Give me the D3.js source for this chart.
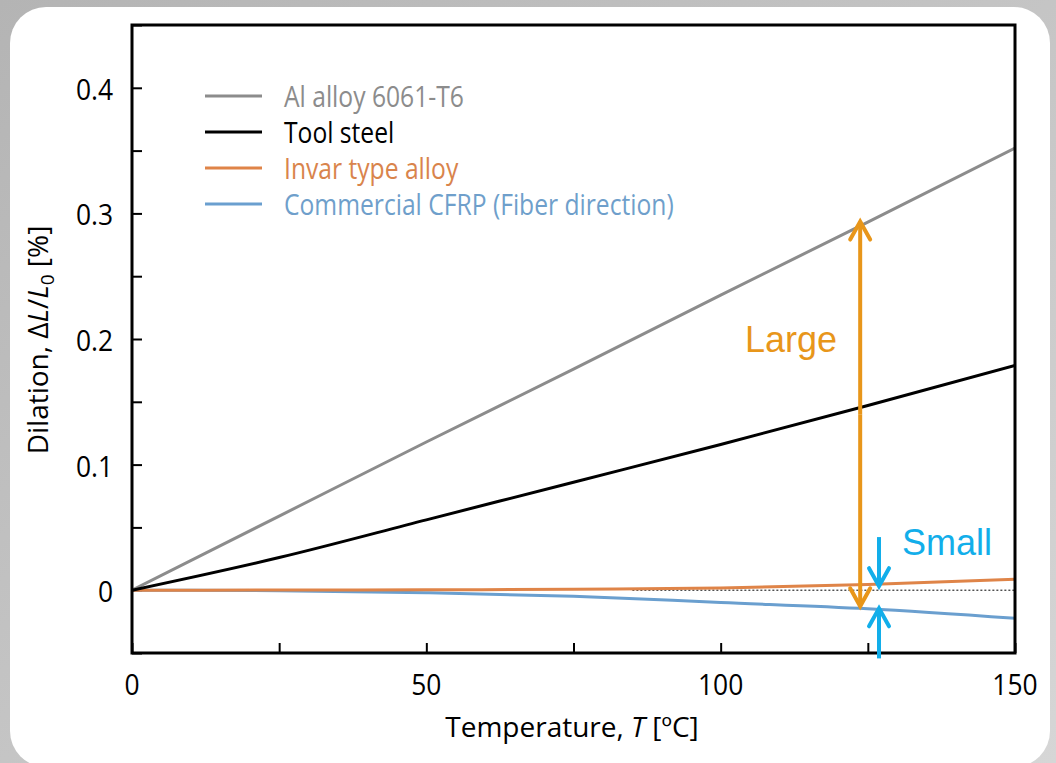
<!DOCTYPE html>
<html>
<head>
<meta charset="utf-8">
<script src="https://cdn.jsdelivr.net/npm/d3@7"></script>
<style>
  body { margin: 0; background: #fff; }
  svg { display: block; }
</style>
</head>
<body>
<svg id="chart" width="1056" height="763"></svg>
<script>
// values
var temps = [0, 25, 50, 75, 100, 125, 150];
var alAlloy = [0, 0.059, 0.118, 0.176, 0.235, 0.293, 0.352];
var toolSteel = [0, 0.026, 0.056, 0.086, 0.116, 0.147, 0.179];
var invar = [0, 0.0001, 0.0003, 0.0008, 0.0018, 0.0045, 0.0088];
var cfrp = [0, -0.0004, -0.002, -0.0048, -0.0098, -0.0148, -0.0224];

var seriesNames = ['Al alloy 6061-T6', 'Tool steel', 'Invar type alloy', 'Commercial CFRP (Fiber direction)'];
var seriesColors = ['#8c8c8c', '#000000', '#df8448', '#6a9fcf'];
var seriesText = ['#8c8c8c', '#000000', '#d9844c', '#6f9fcb'];

var xTicks = [0, 25, 50, 75, 100, 125, 150];
var xLabels = [0, 50, 100, 150];
var yTicks = [-0.05, 0, 0.05, 0.1, 0.15, 0.2, 0.25, 0.3, 0.35, 0.4, 0.45];
var yLabels = [0, 0.1, 0.2, 0.3, 0.4];

var W = 1056, H = 763;
var svg = d3.select('#chart');

// card frame round the picture
var defs = svg.append('defs');
var grad = defs.append('linearGradient').attr('id', 'bg').attr('x1', 0).attr('y1', 0).attr('x2', 1).attr('y2', 1);
grad.append('stop').attr('offset', '0%').attr('stop-color', '#b4b4b4');
grad.append('stop').attr('offset', '100%').attr('stop-color', '#d6d6d6');
svg.append('rect').attr('width', W).attr('height', H).attr('fill', 'url(#bg)');
svg.append('rect')
  .attr('x', 10).attr('y', 7).attr('width', 1040).attr('height', 760)
  .attr('rx', 36).attr('fill', '#ffffff');

// plot box (don't call it "top", that's window.top)
var pLeft = 132, pRight = 1015, pTop = 25, pBottom = 653;

var x = d3.scaleLinear().domain([0, 150]).range([pLeft, pRight]);
var y = d3.scaleLinear().domain([-0.05, 0.45]).range([pBottom, pTop]);

var FONT = "'Open Sans', 'Noto Sans', sans-serif";

// source text is a bit squeezed sideways, sx per text group
function label(g, tx, ty, str, size, anchor, fill, sx) {
  return g.append('text')
    .attr('transform', 'translate(' + tx + ',' + ty + ') scale(' + (sx || 1) + ',1)')
    .attr('text-anchor', anchor)
    .attr('font-family', FONT)
    .attr('font-size', size)
    .attr('fill', fill || '#000')
    .text(str);
}

// zero reference (dotted)
svg.append('line')
  .attr('x1', x(85)).attr('x2', x(150))
  .attr('y1', y(0)).attr('y2', y(0))
  .attr('stroke', '#000').attr('stroke-width', 1)
  .attr('stroke-dasharray', '2,2');

// ticks, drawn inward
svg.append('g')
  .attr('transform', 'translate(0,' + pBottom + ')')
  .call(d3.axisTop(x).tickValues(xTicks).tickSize(10).tickFormat(''))
  .call(g => g.select('.domain').remove())
  .selectAll('line').attr('stroke-width', 2);

svg.append('g')
  .attr('transform', 'translate(' + pLeft + ',0)')
  .call(d3.axisRight(y).tickValues(yTicks).tickSize(10).tickFormat(''))
  .call(g => g.select('.domain').remove())
  .selectAll('line').attr('stroke-width', 2);

// tick labels
var labs = svg.append('g');
xLabels.forEach(function(v) { label(labs, x(v), 695, String(v), 30, 'middle', '#000', 0.88); });
yLabels.forEach(function(v) { label(labs, 113, y(v) + 12, v === 0 ? '0' : d3.format('.1f')(v), 30, 'end', '#000', 0.88); });

// axis titles
var xt = label(svg, 572, 737, '', 28, 'middle', '#000', 1);
xt.append('tspan').text('Temperature, ');
xt.append('tspan').attr('font-style', 'italic').text('T');
xt.append('tspan').text(' [ºC]');

var yt = svg.append('text')
  .attr('transform', 'translate(48,340) rotate(-90)')
  .attr('text-anchor', 'middle')
  .attr('font-family', FONT).attr('font-size', 28).attr('fill', '#000');
yt.append('tspan').text('Dilation, Δ');
yt.append('tspan').attr('font-style', 'italic').text('L');
yt.append('tspan').text('/');
yt.append('tspan').attr('font-style', 'italic').text('L');
yt.append('tspan').attr('font-size', 19).attr('dy', 6).text('0');
yt.append('tspan').attr('dy', -6).text(' [%]');

// series
var allSeries = [alAlloy, toolSteel, invar, cfrp];
var line = d3.line()
  .x(function(d, i) { return x(temps[i]); })
  .y(function(d) { return y(d); })
  .curve(d3.curveMonotoneX);

svg.append('defs').append('clipPath').attr('id', 'clip')
  .append('rect').attr('x', pLeft).attr('y', pTop).attr('width', pRight - pLeft).attr('height', pBottom - pTop);

svg.append('g').attr('clip-path', 'url(#clip)')
  .selectAll('path')
  .data([cfrp, invar, alAlloy, toolSteel])
  .enter().append('path')
  .attr('d', line)
  .attr('fill', 'none')
  .attr('stroke', function(d) { return seriesColors[allSeries.indexOf(d)]; })
  .attr('stroke-width', 3);

// legend
var leg = svg.append('g');
seriesNames.forEach(function(name, i) {
  var ly = 96 + i * 36;
  leg.append('line')
    .attr('x1', 205).attr('x2', 262).attr('y1', ly).attr('y2', ly)
    .attr('stroke', seriesColors[i]).attr('stroke-width', 3);
  label(leg, 284, ly + 11, name, 29, 'start', seriesText[i], 0.85);
});

// frame
svg.append('rect')
  .attr('x', pLeft).attr('y', pTop).attr('width', pRight - pLeft).attr('height', pBottom - pTop)
  .attr('fill', 'none').attr('stroke', '#000').attr('stroke-width', 3);

// annotations
var ORANGE = '#e8961a', CYAN = '#12aeea';

function arrow(g, tx, fromV, toV, color) {
  var x0 = x(tx), y0 = y(fromV), y1 = y(toV);
  var dir = y1 > y0 ? -1 : 1;
  g.append('line').attr('x1', x0).attr('x2', x0).attr('y1', y0).attr('y2', y1)
    .attr('stroke', color).attr('stroke-width', 4);
  g.append('path')
    .attr('d', 'M' + (x0 - 10) + ',' + (y1 + dir * 18) + 'L' + x0 + ',' + y1 + 'L' + (x0 + 10) + ',' + (y1 + dir * 18))
    .attr('fill', 'none').attr('stroke', color).attr('stroke-width', 4)
    .attr('stroke-linecap', 'round').attr('stroke-linejoin', 'miter');
}

var ann = svg.append('g');
// Large: double-headed, between Al alloy and CFRP
arrow(ann, 123.7, 0.14, 0.2935, ORANGE);
arrow(ann, 123.7, 0.14, -0.0128, ORANGE);
// Small: two arrows pointing at the gap
arrow(ann, 126.9, 0.0423, 0.0032, CYAN);
arrow(ann, 126.9, -0.0543, -0.0144, CYAN);

ann.append('text')
  .attr('x', 745).attr('y', 352)
  .attr('font-family', "'Liberation Sans', Arial, sans-serif")
  .attr('font-size', 36).attr('fill', ORANGE)
  .text('Large');
ann.append('text')
  .attr('x', 902).attr('y', 555)
  .attr('font-family', "'Liberation Sans', Arial, sans-serif")
  .attr('font-size', 36).attr('fill', CYAN)
  .text('Small');
</script>
</body>
</html>
